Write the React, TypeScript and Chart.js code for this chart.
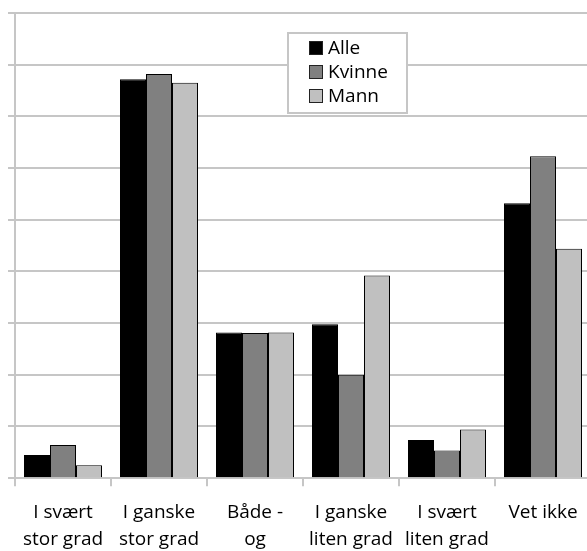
import { useEffect, useRef } from "react";
import { Chart, registerables } from "chart.js";

Chart.register(...registerables);

const categories: (string | string[])[] = [
  ["I svært", "stor grad"],
  ["I ganske", "stor grad"],
  ["Både -", "og"],
  ["I ganske", "liten grad"],
  ["I svært", "liten grad"],
  "Vet ikke",
];
const seriesNames = ["Alle", "Kvinne", "Mann"];
const alle = [0.45, 7.72, 2.82, 2.98, 0.74, 5.32];
const kvinne = [0.64, 7.82, 2.81, 2.0, 0.535, 6.23];
const mann = [0.25, 7.65, 2.82, 3.92, 0.94, 4.44];
const seriesColors = ["#000000", "#808080", "#c0c0c0"];

const GRID = "#c6c6c6";
const FONT = "'Open Sans', 'Noto Sans', sans-serif";

const boxLegend = {
  id: "boxLegend",
  afterDatasetsDraw(chart: any) {
    const ctx = chart.ctx as CanvasRenderingContext2D;
    ctx.save();
    ctx.fillStyle = "#ffffff";
    ctx.fillRect(287, 32, 121, 82);
    ctx.strokeStyle = GRID;
    ctx.lineWidth = 2;
    ctx.strokeRect(288, 33, 119, 80);
    chart.data.datasets.forEach((ds: any, i: number) => {
      const cy = 48 + i * 24;
      ctx.fillStyle = ds.backgroundColor;
      ctx.fillRect(309.5, cy - 6.5, 13, 13);
      ctx.strokeStyle = "#222";
      ctx.lineWidth = 1;
      ctx.strokeRect(309.5, cy - 6.5, 13, 13);
      ctx.fillStyle = "#000";
      ctx.font = `19px ${FONT}`;
      ctx.textBaseline = "middle";
      ctx.textAlign = "left";
      ctx.fillText(ds.label, 328, cy + 1);
    });
    ctx.restore();
  },
};

export default function App() {
  const ref = useRef<HTMLCanvasElement | null>(null);
  useEffect(() => {
    if (!ref.current) return;
    const data = [alle, kvinne, mann];
    const chart = new Chart(ref.current, {
      type: "bar",
      data: {
        labels: categories,
        datasets: seriesNames.map((name, i) => ({
          label: name,
          data: data[i],
          backgroundColor: seriesColors[i],
          borderColor: "#000",
          borderWidth: 1,
          categoryPercentage: 0.8125,
          barPercentage: 1,
        })),
      },
      options: {
        animation: false,
        responsive: false,
        maintainAspectRatio: false,
        devicePixelRatio: 1,
        layout: { padding: { left: 8, top: 13, right: 9, bottom: 0 } },
        plugins: { legend: { display: false }, tooltip: { enabled: false } },
        scales: {
          x: {
            grid: {
              offset: true,
              drawOnChartArea: false,
              drawTicks: true,
              tickLength: 8,
              color: GRID,
              lineWidth: 2,
            },
            border: { color: GRID, width: 2 },
            ticks: {
              autoSkip: false,
              maxRotation: 0,
              minRotation: 0,
              padding: 12,
              color: "#000",
              font: { size: 19, family: FONT, lineHeight: 1.47 },
            },
          },
          y: {
            min: 0,
            max: 9,
            ticks: { stepSize: 1, display: false },
            grid: { color: GRID, lineWidth: 2, drawTicks: true, tickLength: 7 },
            border: { color: GRID, width: 2 },
          },
        },
      },
      plugins: [boxLegend],
    });
    return () => chart.destroy();
  }, []);
  return (
    <div
      style={{
        position: "fixed",
        left: 0,
        top: 0,
        width: 587,
        height: 551,
        overflow: "hidden",
        background: "#fff",
      }}
    >
      <canvas ref={ref} width={600} height={566} style={{ display: "block" }} />
    </div>
  );
}
